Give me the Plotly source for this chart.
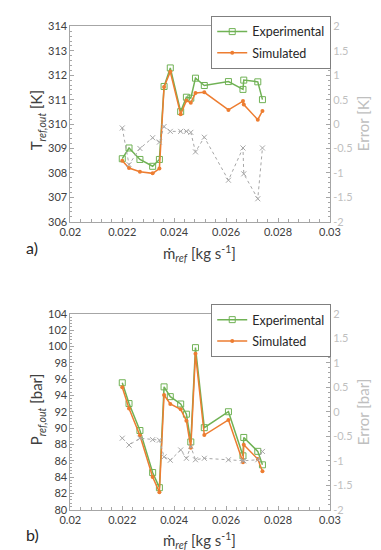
import plotly.graph_objects as go

# ---- data ----
m_ref = [0.02200, 0.02226, 0.02268, 0.02317, 0.02343, 0.02361, 0.02385, 0.02425, 0.02447,
         0.02464, 0.02482, 0.02516, 0.02609, 0.02665, 0.02668, 0.02722, 0.02740]

T_exp = [308.58, 309.02, 308.55, 308.27, 308.55, 311.54, 312.30, 310.51, 311.10,
         311.06, 311.88, 311.58, 311.74, 311.42, 311.80, 311.73, 311.00]
T_sim = [308.50, 308.20, 308.05, 307.98, 308.18, 311.52, 312.14, 310.40, 310.96,
         310.87, 311.27, 311.30, 310.58, 310.94, 310.80, 310.18, 310.54]
T_err = [-0.08, -0.83, -0.50, -0.28, -0.37, -0.05, -0.15, -0.15, -0.15,
         -0.17, -0.57, -0.27, -1.15, -0.49, -1.02, -1.53, -0.49]

P_exp = [95.55, 93.00, 89.70, 84.55, 82.70, 95.05, 93.85, 92.95, 91.70,
         88.30, 99.85, 90.05, 92.00, 86.60, 88.85, 87.15, 85.50]
P_sim = [95.00, 92.40, 89.10, 84.00, 82.15, 94.05, 92.95, 92.30, 90.90,
         87.60, 99.10, 89.15, 91.00, 85.80, 87.95, 86.20, 84.70]
P_err = [-0.54, -0.68, -0.54, -0.57, -0.58, -0.92, -0.99, -0.78, -0.95,
         -0.71, -0.98, -0.95, -0.98, -1.00, -1.00, -0.98, -0.81]

x_ticks = [0.02, 0.022, 0.024, 0.026, 0.028, 0.03]
x_tick_labels = ["0.02", "0.022", "0.024", "0.026", "0.028", "0.03"]

# ---- styles ----
W, H = 381, 550
GREEN = "#70B255"
ORANGE = "#ED7D31"
GREY = "#A6A6A6"
FRAME = "#A6A6A6"
TXT = "#404040"
LIGHT = "#BFBFBF"
FONT = "Lato"

def px_x(p):
    return p / W

def px_y(p):
    return 1 - p / H

X0, X1 = 54.5, 330
A_TOP, A_BOT = 11.7, 211.7
B_TOP, B_BOT = 306, 506.7

fig = go.Figure()

def add_panel(xa, ya, ya2, exp, sim, err, legend):
    fig.add_trace(go.Scatter(x=m_ref, y=err, xaxis=xa, yaxis=ya2, mode="lines+markers",
                             line=dict(color=GREY, width=1, dash="3px,3px"),
                             marker=dict(symbol="x-thin", size=5, line=dict(color=GREY, width=1)),
                             showlegend=False))
    fig.add_trace(go.Scatter(x=m_ref, y=exp, xaxis=xa, yaxis=ya, mode="lines+markers",
                             name="Experimental", legend=legend, legendgroup=legend + "e",
                             line=dict(color=GREEN, width=1.5),
                             marker=dict(symbol="square-open", size=6, color=GREEN,
                                         line=dict(color=GREEN, width=1))))
    fig.add_trace(go.Scatter(x=m_ref, y=sim, xaxis=xa, yaxis=ya, mode="lines+markers",
                             name="Simulated", legend=legend, legendgroup=legend + "s",
                             line=dict(color=ORANGE, width=1.5),
                             marker=dict(symbol="circle", size=4, color=ORANGE)))

add_panel("x", "y", "y2", T_exp, T_sim, T_err, "legend")
add_panel("x2", "y3", "y4", P_exp, P_sim, P_err, "legend2")

tickfont = dict(family=FONT, size=11, color=TXT)
lightfont = dict(family=FONT, size=11, color=LIGHT)

def xaxis_cfg(anchor):
    return dict(domain=[px_x(X0), px_x(X1)], anchor=anchor, range=[0.02, 0.03],
                tickvals=x_ticks, ticktext=x_tick_labels, tickfont=tickfont,
                showline=True, linecolor=FRAME, linewidth=1, mirror=True,
                ticks="inside", ticklen=4, tickcolor=FRAME, showgrid=False, zeroline=False,
                minor=dict(dtick=0.0004, ticks="inside", ticklen=3, tickcolor=FRAME))

def yleft_cfg(anchor, dom, rng, dtick, mdtick):
    return dict(domain=dom, anchor=anchor, range=rng, dtick=dtick, tickfont=tickfont,
                showline=True, linecolor=FRAME, linewidth=1,
                ticks="inside", ticklen=4, tickcolor=FRAME, showgrid=False, zeroline=False,
                minor=dict(dtick=mdtick, ticks="inside", ticklen=2, tickcolor=FRAME))

def yright_cfg(anchor, over):
    return dict(overlaying=over, anchor=anchor, side="right", range=[-2, 2],
                tickvals=[-2, -1.5, -1, -0.5, 0, 0.5, 1, 1.5, 2],
                ticktext=["-2", "-1.5", "-1", "-0.5", "0", "0.5", "1", "1.5", "2"],
                tickfont=lightfont, showline=True, linecolor=FRAME, linewidth=1,
                ticks="inside", ticklen=4, tickcolor=FRAME, showgrid=False, zeroline=False,
                minor=dict(dtick=0.1, ticks="inside", ticklen=2, tickcolor=FRAME))

dom_a = [px_y(A_BOT), px_y(A_TOP)]
dom_b = [px_y(B_BOT), px_y(B_TOP)]

legend_common = dict(xanchor="left", yanchor="top", bgcolor="white",
                     bordercolor="#7F7F7F", borderwidth=1,
                     font=dict(family=FONT, size=12.5, color="#262626"),
                     itemwidth=30, tracegroupgap=2, traceorder="grouped")

fig.update_layout(
    width=W, height=H, margin=dict(l=0, r=0, t=0, b=0),
    paper_bgcolor="white", plot_bgcolor="white",
    font=dict(family=FONT, color=TXT),
    xaxis=xaxis_cfg("y"),
    yaxis=yleft_cfg("x", dom_a, [306, 314], 1, 0.2),
    yaxis2=yright_cfg("x", "y"),
    xaxis2=xaxis_cfg("y3"),
    yaxis3=yleft_cfg("x2", dom_b, [80, 104], 2, 0.4),
    yaxis4=yright_cfg("x2", "y3"),
    legend=dict(x=px_x(204), y=px_y(1), **legend_common),
    legend2=dict(x=px_x(204), y=px_y(296), **legend_common),
)

def ann(text, x, y, size=14, color=TXT, angle=0):
    fig.add_annotation(text=text, x=px_x(x), y=px_y(y), xref="paper", yref="paper",
                       showarrow=False, textangle=angle, xanchor="center", yanchor="middle",
                       font=dict(family=FONT, size=size, color=color))

# panel a titles
ann("T<sub><i>ref,out</i></sub> [K]", 20, 108, size=15, angle=-90)
ann("Error [K]", 366, 111, size=15, color=LIGHT, angle=-90)
ann("ṁ<sub><i>ref</i></sub> [kg s<sup>-1</sup>]", 192, 244, size=15)
ann("a)", 14, 238, size=16, color="#262626")

# panel b titles
ann("P<sub><i>ref,out</i></sub> [bar]", 20, 404, size=15, angle=-90)
ann("Error [bar]", 366, 406, size=15, color=LIGHT, angle=-90)
ann("ṁ<sub><i>ref</i></sub> [kg s<sup>-1</sup>]", 192, 538, size=15)
ann("b)", 14, 532, size=16, color="#262626")

fig.write_html("out.html")
